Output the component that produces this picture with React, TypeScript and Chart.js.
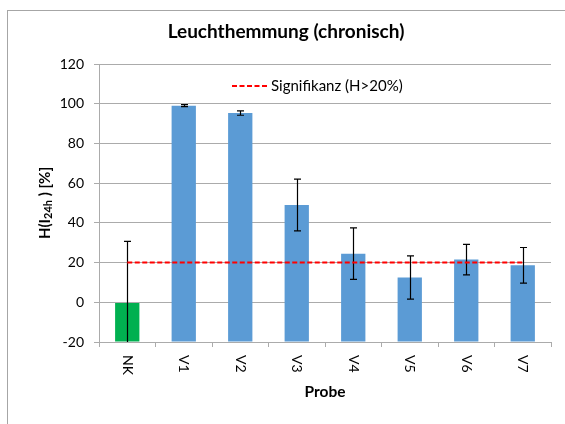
import React, { useEffect, useRef } from 'react';
import { Chart, registerables } from 'chart.js';

Chart.register(...registerables);

// Samples and measured luminescence inhibition H(I24h) in %
const categories = ['NK', 'V1', 'V2', 'V3', 'V4', 'V5', 'V6', 'V7'];
const inhibition = [-0.3, 99.0, 95.3, 49.0, 24.5, 12.5, 21.5, 18.6];
const inhibitionError = [31.0, 0.5, 1.1, 13.0, 13.0, 10.9, 7.7, 9.0];
const significance = [20, 20, 20, 20, 20, 20, 20, 20];
const barColors = ['#00B050', '#5B9BD5', '#5B9BD5', '#5B9BD5', '#5B9BD5', '#5B9BD5', '#5B9BD5', '#5B9BD5'];
const yMin = -20;
const yMax = 120;
const yStep = 20;

const FONT = 'Lato, "Open Sans", sans-serif';
const GRID = '#ababab';

// Outer chart frame
const framePlugin = {
  id: 'frame',
  beforeDraw(chart: any) {
    const { ctx } = chart;
    ctx.save();
    ctx.fillStyle = '#ffffff';
    ctx.fillRect(0, 0, chart.width, chart.height);
    ctx.strokeStyle = '#a6a6a6';
    ctx.lineWidth = 1;
    ctx.strokeRect(7.5, 10.5, 700, 600);
    ctx.restore();
  },
};

// Symmetric error bars on the bar dataset, clipped to the plot area
const errorBarPlugin = {
  id: 'errorBars',
  afterDatasetDraw(chart: any, args: any) {
    if (args.index !== 0) return;
    const { ctx, chartArea } = chart;
    const yScale = chart.scales.y;
    ctx.save();
    ctx.beginPath();
    ctx.rect(chartArea.left, chartArea.top, chartArea.right - chartArea.left, chartArea.bottom - chartArea.top);
    ctx.clip();
    ctx.strokeStyle = '#000000';
    ctx.lineWidth = 1.2;
    args.meta.data.forEach((bar: any, i: number) => {
      const v = inhibition[i];
      const e = inhibitionError[i];
      const x = Math.round(bar.x) + 0.5;
      const yTop = yScale.getPixelForValue(v + e);
      const yBot = yScale.getPixelForValue(v - e);
      ctx.beginPath();
      ctx.moveTo(x, yTop);
      ctx.lineTo(x, yBot);
      ctx.moveTo(x - 3.5, yTop);
      ctx.lineTo(x + 3.5, yTop);
      ctx.moveTo(x - 3.5, yBot);
      ctx.lineTo(x + 3.5, yBot);
      ctx.stroke();
    });
    ctx.restore();
  },
};

// Legend entry for the threshold line, placed inside the plot area
const insideLegendPlugin = {
  id: 'insideLegend',
  afterDraw(chart: any) {
    const ds = chart.data.datasets[1];
    const { ctx, chartArea } = chart;
    const x0 = chartArea.left + 133;
    const y0 = chartArea.top + 22;
    ctx.save();
    ctx.strokeStyle = ds.borderColor;
    ctx.lineWidth = ds.borderWidth;
    ctx.setLineDash(ds.borderDash);
    ctx.beginPath();
    ctx.moveTo(x0, y0);
    ctx.lineTo(x0 + 35, y0);
    ctx.stroke();
    ctx.setLineDash([]);
    ctx.font = `15px ${FONT}`;
    ctx.fillStyle = '#000000';
    ctx.textBaseline = 'middle';
    ctx.textAlign = 'left';
    ctx.fillText(ds.label, x0 + 39, y0);
    ctx.restore();
  },
};

// Category labels rotated clockwise, reading top to bottom
const xLabelPlugin = {
  id: 'xLabels',
  afterDraw(chart: any) {
    const { ctx, chartArea } = chart;
    const xScale = chart.scales.x;
    ctx.save();
    ctx.font = `14px ${FONT}`;
    ctx.fillStyle = '#000000';
    ctx.textAlign = 'left';
    ctx.textBaseline = 'middle';
    categories.forEach((label, i) => {
      const x = xScale.getPixelForValue(i);
      ctx.save();
      ctx.translate(x, chartArea.bottom + 13);
      ctx.rotate(Math.PI / 2);
      ctx.fillText(label, 0, 0);
      ctx.restore();
    });
    ctx.restore();
  },
};

// Vertical axis title with subscript: H(I24h) [%]
const yTitlePlugin = {
  id: 'yTitle',
  afterDraw(chart: any) {
    const { ctx, chartArea } = chart;
    const main = `bold 15px ${FONT}`;
    const sub = `bold 11px ${FONT}`;
    const parts = [
      { t: 'H(I', f: main, dy: 0 },
      { t: '24h', f: sub, dy: 3 },
      { t: ' ) [%]', f: main, dy: 0 },
    ];
    ctx.save();
    let total = 0;
    const widths = parts.map((p) => {
      ctx.font = p.f;
      const w = ctx.measureText(p.t).width;
      total += w;
      return w;
    });
    ctx.translate(45, (chartArea.top + chartArea.bottom) / 2);
    ctx.rotate(-Math.PI / 2);
    ctx.fillStyle = '#000000';
    ctx.textAlign = 'left';
    ctx.textBaseline = 'middle';
    let x = -total / 2;
    parts.forEach((p, i) => {
      ctx.font = p.f;
      ctx.fillText(p.t, x, p.dy);
      x += widths[i];
    });
    ctx.restore();
  },
};

export default function App() {
  const canvasRef = useRef<HTMLCanvasElement | null>(null);

  useEffect(() => {
    document.body.style.margin = '0';
    const canvas = canvasRef.current;
    if (!canvas) return;
    const chart = new Chart(canvas, {
      type: 'bar',
      data: {
        labels: categories,
        datasets: [
          {
            type: 'bar',
            label: 'H(I24h)',
            data: inhibition,
            backgroundColor: barColors,
            base: yMin,
            barPercentage: 0.43,
            categoryPercentage: 1,
            order: 1,
          } as any,
          {
            type: 'line',
            label: 'Signifikanz (H>20%)',
            data: significance,
            borderColor: '#FF0000',
            borderWidth: 2,
            borderDash: [5, 2.5],
            pointRadius: 0,
            fill: false,
            order: 0,
          } as any,
        ],
      },
      options: {
        responsive: false,
        animation: false,
        events: [],
        layout: { padding: { left: 21, right: 14, top: 0, bottom: 0 } },
        plugins: {
          legend: { display: false },
          tooltip: { enabled: false },
          title: {
            display: true,
            text: 'Leuchthemmung (chronisch)',
            color: '#000000',
            font: { family: FONT, size: 19, weight: 'bold' },
            padding: { top: 20.6, bottom: 20.6 },
          },
        },
        scales: {
          x: {
            offset: true,
            grid: {
              offset: true,
              drawOnChartArea: false,
              drawTicks: true,
              tickLength: 5,
              color: GRID,
            },
            border: { display: true, color: GRID },
            ticks: { display: false },
            title: {
              display: true,
              text: 'Probe',
              color: '#000000',
              font: { family: FONT, size: 15.5, weight: 'bold' },
              padding: { top: 0, bottom: 22.7 },
            },
            afterFit(scale: any) {
              scale.height = 82;
            },
          },
          y: {
            min: yMin,
            max: yMax,
            ticks: {
              stepSize: yStep,
              color: '#000000',
              padding: 10,
              font: { family: FONT, size: 14 },
            },
            grid: { color: GRID, tickLength: 5 },
            border: { display: true, color: GRID },
            afterFit(scale: any) {
              scale.width = 78;
            },
          },
        },
      },
      plugins: [framePlugin, errorBarPlugin, insideLegendPlugin, xLabelPlugin, yTitlePlugin],
    });
    return () => chart.destroy();
  }, []);

  return (
    <div style={{ width: 565, height: 424 }}>
      <canvas ref={canvasRef} width={565} height={424} />
    </div>
  );
}
